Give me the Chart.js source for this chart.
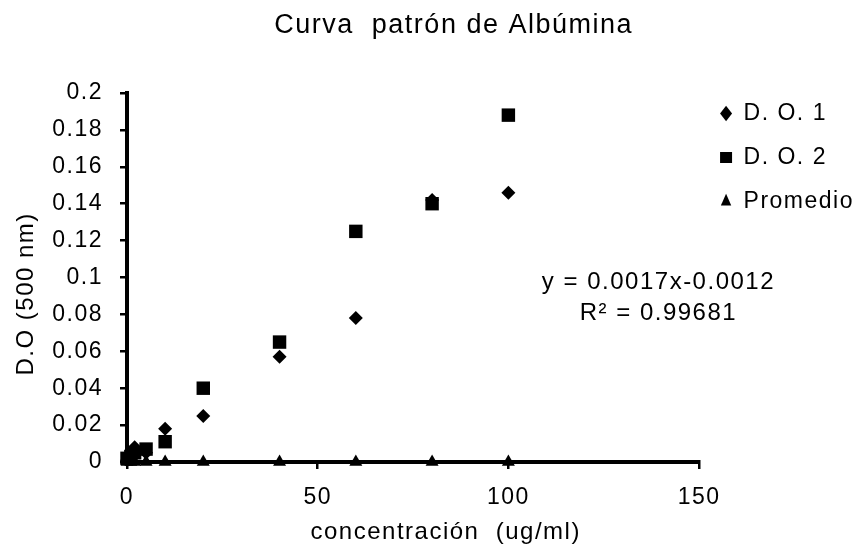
<!DOCTYPE html>
<html>
<head>
<meta charset="utf-8">
<script src="https://cdn.jsdelivr.net/npm/chart.js@4.4.1/dist/chart.umd.min.js"></script>
<style>
  html, body { margin: 0; padding: 0; background: #fff; }
  #wrap { width: 860px; height: 552px; }
</style>
</head>
<body>
<div id="wrap"><canvas id="myChart" width="860" height="552"></canvas></div>
<script>
// concentraciones (ug/ml)
const concentracion = [0, 1, 2, 5, 10, 20, 40, 60, 80, 100];
// lecturas
const do1 = [0.001, 0.004, 0.008, 0.005, 0.018, 0.025, 0.057, 0.078, 0.142, 0.146];
const do2 = [0.002, 0.003, 0.005, 0.007, 0.011, 0.040, 0.065, 0.125, 0.140, 0.188];
const promedio = [0, 0, 0, 0, 0, 0, 0, 0, 0, 0];

const titulo = 'Curva  patrón de Albúmina';
const ecuacion = ['y = 0.0017x-0.0012', 'R\u00b2 = 0.99681'];

const FONT = "'Liberation Sans', Arial, sans-serif";
const SPACING = '1.5px';

const toPoints = (ys) => concentracion.map((x, i) => ({ x: x, y: ys[i] }));

// el texto del original va algo mas espaciado
const spacing = {
    id: 'spacing',
    beforeUpdate(chart) { chart.ctx.letterSpacing = SPACING; },
    beforeDraw(chart) { chart.ctx.letterSpacing = SPACING; }
};

// titulo + ecuacion de la linea de tendencia
const extraText = {
    id: 'extraText',
    afterDraw(chart) {
        const { ctx, chartArea } = chart;
        const w = chartArea.right - chartArea.left;
        const h = chartArea.bottom - chartArea.top;
        ctx.save();
        ctx.fillStyle = '#000';
        ctx.textAlign = 'center';
        ctx.textBaseline = 'middle';
        ctx.font = '27px ' + FONT;
        ctx.fillText(titulo, chartArea.left + w * 0.571, 26);
        ctx.font = '24px ' + FONT;
        const cx = chartArea.left + w * 0.929;
        ctx.fillText(ecuacion[0], cx, chartArea.top + h * 0.513);
        ctx.fillText(ecuacion[1], cx, chartArea.top + h * 0.597);
        ctx.restore();
    }
};

const config = {
    type: 'scatter',
    data: {
        datasets: [{
            label: 'D. O. 1',
            data: toPoints(do1),
            pointStyle: 'rectRot',
            radius: 7,
            backgroundColor: '#000',
            borderColor: '#000',
            borderWidth: 0,
            clip: false
        },
        {
            label: 'D. O. 2',
            data: toPoints(do2),
            pointStyle: 'rect',
            radius: 9.5,
            backgroundColor: '#000',
            borderColor: '#000',
            borderWidth: 0,
            clip: false
        },
        {
            label: 'Promedio',
            data: toPoints(promedio),
            pointStyle: 'triangle',
            radius: 7.5,
            backgroundColor: '#000',
            borderColor: '#000',
            borderWidth: 0,
            clip: false
        }]
    },
    options: {
        responsive: false,
        animation: false,
        layout: { padding: { left: 10, right: -4, top: 81, bottom: 5 } },
        plugins: {
            tooltip: { enabled: false },
            // solo reserva el hueco sobre el area del grafico
            title: {
                display: true,
                text: '',
                fullSize: false,
                font: { size: 10 },
                padding: { top: 0, bottom: 0 }
            },
            legend: {
                position: 'right',
                align: 'start',
                labels: {
                    usePointStyle: true,
                    pointStyleWidth: 12,
                    boxHeight: 11,
                    color: '#000',
                    padding: 21,
                    font: { family: FONT, size: 23 }
                }
            }
        },
        scales: {
            x: {
                type: 'linear',
                min: 0,
                max: 150,
                afterFit: (scale) => { scale.height = 85; },
                ticks: {
                    stepSize: 50,
                    color: '#000',
                    font: { family: FONT, size: 23 },
                    padding: 15
                },
                grid: { drawOnChartArea: false, drawTicks: true, tickLength: 7, color: '#000', lineWidth: 2.5 },
                border: { display: true, color: '#000', width: 4 },
                title: {
                    display: true,
                    // espacios delante: el titulo va desplazado a la derecha
                    text: '        concentración  (ug/ml)',
                    color: '#000',
                    font: { family: FONT, size: 24 },
                    padding: { top: 7, bottom: 0 }
                }
            },
            y: {
                min: 0,
                max: 0.2,
                afterFit: (scale) => { scale.width = 117; },
                ticks: {
                    stepSize: 0.02,
                    color: '#000',
                    font: { family: FONT, size: 23 },
                    padding: 17,
                    callback: (v) => String(+v.toFixed(2))
                },
                grid: { drawOnChartArea: false, drawTicks: true, tickLength: 7, color: '#000', lineWidth: 2.5 },
                border: { display: true, color: '#000', width: 4 },
                title: {
                    display: true,
                    text: 'D.O (500 nm)    ',
                    color: '#000',
                    font: { family: FONT, size: 24 },
                    padding: { top: 2, bottom: 0 }
                }
            }
        }
    },
    plugins: [spacing, extraText]
};

const chart = new Chart(document.getElementById('myChart'), config);
</script>
</body>
</html>
